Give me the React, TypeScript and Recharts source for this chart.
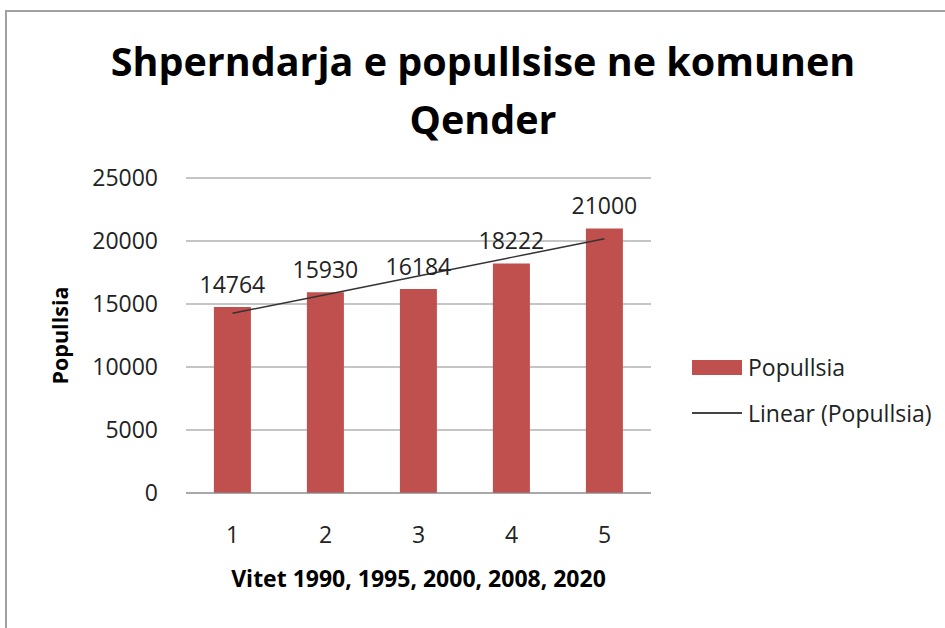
import React from "react";
import { ComposedChart, Bar, Line, XAxis, YAxis, CartesianGrid, Legend, LabelList, Label } from "recharts";

const categories = ["1", "2", "3", "4", "5"];
const popullsia = [14764, 15930, 16184, 18222, 21000];
// linear trendline
const trend = [14270, 15740, 17220, 18700, 20170];
const yTicks = [0, 5000, 10000, 15000, 20000, 25000];

const data = categories.map((c, i) => ({ name: c, popullsia: popullsia[i], trend: trend[i] }));

const FONT = "'Open Sans', sans-serif";
const BAR = "#C0504D";

function LegendBox() {
  return (
    <div style={{ fontFamily: FONT, fontSize: 23, color: "#222" }}>
      <div style={{ display: "flex", alignItems: "center", height: 30 }}>
        <span style={{ display: "inline-block", width: 50, height: 15, background: BAR, marginRight: 6 }} />
        Popullsia
      </div>
      <div style={{ display: "flex", alignItems: "center", height: 30, marginTop: 16 }}>
        <span style={{ display: "inline-block", width: 50, height: 2, background: "#444", marginRight: 6 }} />
        Linear (Popullsia)
      </div>
    </div>
  );
}

export default function App() {
  return (
    <div style={{ position: "fixed", left: 0, top: 0, width: 945, height: 628, background: "#fff", overflow: "hidden" }}>
      <div style={{ position: "absolute", left: 5, top: 10, right: -2, bottom: -2, borderLeft: "2px solid #a0a0a0", borderTop: "2px solid #a0a0a0" }} />
      <div style={{ position: "absolute", left: 0, top: 32, width: 966, textAlign: "center", fontFamily: FONT, fontWeight: 700, fontSize: 39.5, lineHeight: "58px", color: "#000" }}>
        Shperndarja e popullsise ne komunen
        <br />
        Qender
      </div>
      <div style={{ position: "absolute", left: 0, top: 0 }}>
        <ComposedChart width={945} height={628} data={data} margin={{ top: 178, right: 294, bottom: 35, left: 46 }} barCategoryGap="30%">
          <CartesianGrid vertical={false} stroke="#8c8c8c" strokeWidth={1.2} />
          <XAxis dataKey="name" axisLine={{ stroke: "#8c8c8c" }} tickLine={false} height={100} tick={{ fontSize: 23, fill: "#222", fontFamily: FONT }} tickMargin={28}>
            <Label value="Vitet 1990, 1995, 2000, 2008, 2020" position="insideTop" offset={78} style={{ fontSize: 23, fontWeight: 700, fill: "#000", fontFamily: FONT }} />
          </XAxis>
          <YAxis domain={[0, 25000]} ticks={yTicks} axisLine={false} tickLine={false} width={140} tickMargin={22} tick={{ fontSize: 23, fill: "#222", fontFamily: FONT }}>
            <Label value="Popullsia" angle={-90} position="insideLeft" offset={14} style={{ textAnchor: "middle", fontSize: 21.5, fontWeight: 700, fill: "#000", fontFamily: FONT }} />
          </YAxis>
          <Legend layout="vertical" align="center" verticalAlign="middle" wrapperStyle={{ left: 692, top: 352, width: 250 }} content={() => <LegendBox />} />
          <Bar dataKey="popullsia" fill={BAR} isAnimationActive={false}>
            <LabelList dataKey="popullsia" position="top" offset={14} style={{ fontSize: 23, fill: "#222", fontFamily: FONT }} />
          </Bar>
          <Line dataKey="trend" stroke="#333" strokeWidth={1.5} dot={false} isAnimationActive={false} />
        </ComposedChart>
      </div>
    </div>
  );
}
